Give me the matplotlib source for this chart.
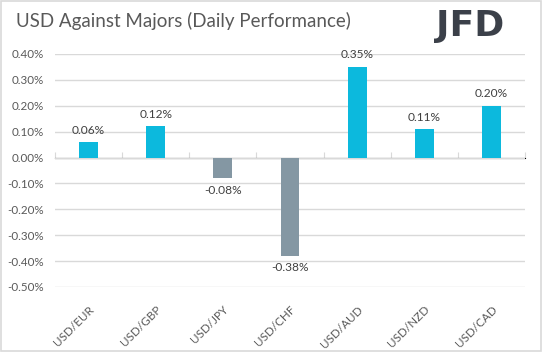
import numpy as np
import matplotlib.pyplot as plt
from matplotlib.patches import Rectangle

pairs = ['USD/EUR', 'USD/GBP', 'USD/JPY', 'USD/CHF', 'USD/AUD', 'USD/NZD', 'USD/CAD']
perf = [0.06, 0.12, -0.08, -0.38, 0.35, 0.11, 0.20]
yticks = [0.4, 0.3, 0.2, 0.1, 0.0, -0.1, -0.2, -0.3, -0.4, -0.5]

plt.rcParams['font.family'] = ['Lato', 'DejaVu Sans']
txt = '#595959'
grid = '#d9d9d9'

fig = plt.figure(figsize=(5.43, 3.52), dpi=100)
fig.patches.append(Rectangle((0.002, 0.003), 0.995, 0.993, transform=fig.transFigure,
                             fill=False, edgecolor='#d9d9d9', lw=1.2))
ax = fig.add_axes([0.1013, 0.1847, 0.8656, 0.6619])

x = np.arange(len(pairs))
cols = ['#0cb9dd' if v >= 0 else '#8497a3' for v in perf]
ax.bar(x, perf, width=0.28, color=cols, zorder=3)
for xi, v in zip(x, perf):
    off = 0.025 if v >= 0 else -0.025
    ax.text(xi, v + off, f'{v:.2f}%', ha='center', va='bottom' if v >= 0 else 'top',
            fontsize=8.6, color='#404040', zorder=4)

ax.set_xlim(-0.5, len(pairs) - 0.5)
ax.set_ylim(-0.5, 0.4)
ax.set_yticks(yticks)
ax.set_yticklabels([f'{t:.2f}%' for t in yticks], fontsize=8.4, color=txt)
ax.yaxis.grid(True, color=grid, lw=1, zorder=0)
ax.tick_params(axis='y', length=0, pad=8)
ax.set_xticks(x)
ax.set_xticklabels(pairs, rotation=45, ha='right', va='top', rotation_mode='anchor',
                   fontsize=8.4, color=txt)
ax.tick_params(axis='x', length=0, pad=12)
for s in ax.spines.values():
    s.set_visible(False)

sec = ax.secondary_xaxis(0.5 / 0.9)
sec.set_xticks(np.arange(len(pairs) + 1) - 0.5)
sec.set_xticklabels([])
sec.tick_params(length=4, color=grid, direction='out')
sec.spines['bottom'].set_color(grid)

fig.text(0.029, 0.94, 'USD Against Majors (Daily Performance)', fontsize=13.5,
         color=txt, va='center', ha='left')
fig.text(0.803, 0.925, 'JFD', fontsize=26, fontweight='heavy', color='#3b4049',
         va='center', ha='left', family='DejaVu Sans')

fig.savefig('out.png', dpi=100)
